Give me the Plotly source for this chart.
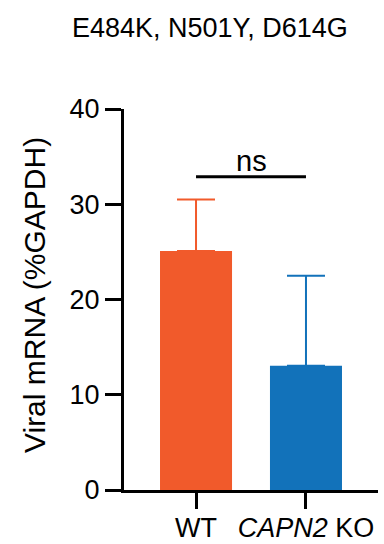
import plotly.graph_objects as go

categories = ["WT", "CAPN2 KO"]
tick_labels = ["WT", "<i>CAPN2</i> KO"]
means = [25.1, 13.05]
sem_up = [5.4, 9.45]
colors = ["#F15A2B", "#1272BA"]
sig_label = "ns"
sig_y = 32.9
title_text = "E484K, N501Y, D614G"
y_title = "Viral mRNA (%GAPDH)"

FONT = "Liberation Sans, Arial, Helvetica, sans-serif"

fig = go.Figure()
for i, cat in enumerate(categories):
    fig.add_trace(go.Bar(
        x=[i], y=[means[i]], width=0.655,
        marker=dict(color=colors[i], line=dict(width=0)),
        error_y=dict(type="data", symmetric=False, array=[sem_up[i]], arrayminus=[0],
                     color=colors[i], thickness=2, width=19),
        showlegend=False,
    ))

fig.add_shape(type="line", xref="x", yref="y", x0=0, x1=1, y0=sig_y, y1=sig_y,
              line=dict(color="black", width=3))
fig.add_annotation(x=0.5, y=sig_y, xref="x", yref="y", text=sig_label, showarrow=False,
                   yanchor="bottom", yshift=-2, font=dict(size=29, color="black", family=FONT))

fig.add_annotation(x=(209.5 - 124) / 254, y=(490 - 28) / 381, xref="paper", yref="paper",
                   xanchor="center", yanchor="middle", text=title_text, showarrow=False,
                   font=dict(size=27, color="black", family=FONT))

fig.add_annotation(x=(34 - 124) / 254, y=(490 - 295) / 381, xref="paper", yref="paper",
                   xanchor="center", yanchor="middle", textangle=-90, text=y_title,
                   showarrow=False, font=dict(size=30, color="black", family=FONT))

fig.update_layout(
    width=384, height=544,
    margin=dict(l=124, r=6, t=109, b=54, autoexpand=False),
    paper_bgcolor="white", plot_bgcolor="white",
    barmode="overlay",
    font=dict(family=FONT, color="black", size=27),
    xaxis=dict(range=[-0.655, 1.655], tickmode="array", tickvals=[0, 1], ticktext=tick_labels,
               showline=True, linecolor="black", linewidth=3, ticks="outside", ticklen=16,
               tickwidth=3, tickcolor="black", showgrid=False, zeroline=False, automargin=False,
               ticklabelstandoff=-4,
               tickfont=dict(size=27, family=FONT, color="black")),
    yaxis=dict(range=[0, 40], tickvals=[0, 10, 20, 30, 40],
               showline=True, linecolor="black", linewidth=3, ticks="outside", ticklen=16,
               tickwidth=3, tickcolor="black", showgrid=False, zeroline=False, automargin=False,
               tickfont=dict(size=27, family=FONT, color="black")),
)

fig.write_html("out.html", config={"displayModeBar": False},
               post_script="document.body.style.margin='0';document.body.style.overflow='hidden';")
